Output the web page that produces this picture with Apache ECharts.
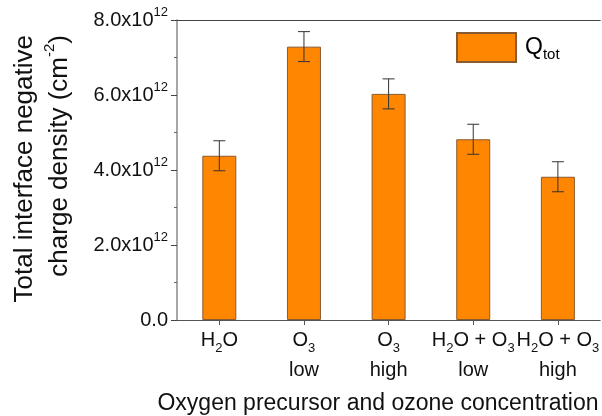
<!DOCTYPE html>
<html><head><meta charset="utf-8">
<script src="https://cdn.jsdelivr.net/npm/echarts@6/dist/echarts.min.js"></script>
<style>html,body{margin:0;padding:0;background:#fff}#c{width:602px;height:416px}</style>
</head><body><div id="c"></div>
<script>
// ---- data ----
const categories = ['H2O', 'O3 low', 'O3 high', 'H2O + O3 low', 'H2O + O3 high'];
const categoryLabels = [
  '{a|H}{b|2}{a|O}',
  '{a|O}{b|3}\n{a|low}',
  '{a|O}{b|3}\n{a|high}',
  '{a|H}{b|2}{a|O + O}{b|3}\n{a|low}',
  '{a|H}{b|2}{a|O + O}{b|3}\n{a|high}'
];
const qtot = [4.38e12, 7.29e12, 6.03e12, 4.82e12, 3.82e12];
const qtotErr = [0.40e12, 0.40e12, 0.40e12, 0.40e12, 0.40e12];
const yMin = 0, yMax = 8e12, yStep = 2e12;
const yTitle = '{a|Total interface negative}\n{a|charge density (cm}{s|-2}{a|)}';
const xTitle = 'Oxygen precursor and ozone concentration';
const seriesName = 'Qtot';

const FONT = 'Arial, "Liberation Sans", Helvetica, sans-serif';
const chart = echarts.init(document.getElementById('c'), null, {renderer: 'canvas'});

const errData = qtot.map((v, i) => [i, v - qtotErr[i], v + qtotErr[i]]);

chart.setOption({
  animation: false,
  backgroundColor: '#fff',
  grid: {left: 177, top: 20, width: 426, height: 300, containLabel: false},
  legend: {
    data: [seriesName],
    left: 456, top: 32, padding: 0,
    itemWidth: 59, itemHeight: 29,
    icon: 'rect',
    formatter: () => '{q|Q}{t|tot}',
    textStyle: {
      padding: [0, 0, 0, 4],
      rich: {
        q: {fontFamily: FONT, fontSize: 23, color: '#000', lineHeight: 30},
        t: {fontFamily: FONT, fontSize: 15, color: '#000', lineHeight: 14, verticalAlign: 'bottom'}
      }
    }
  },
  xAxis: [{
    type: 'category',
    data: categories,
    position: 'bottom',
    axisLine: {lineStyle: {color: '#555', width: 1}},
    axisTick: {show: true, alignWithLabel: true, length: 5, lineStyle: {color: '#555'}},
    axisLabel: {
      interval: 0, margin: 5,
      formatter: (v, i) => categoryLabels[i],
      rich: {
        a: {fontFamily: FONT, fontSize: 20, color: '#111', lineHeight: 30},
        b: {fontFamily: FONT, fontSize: 13, color: '#111', lineHeight: 13, verticalAlign: 'bottom'}
      }
    }
  }, {
    type: 'category',
    data: categories,
    position: 'top',
    axisLine: {lineStyle: {color: '#444', width: 1}},
    axisTick: {show: false},
    axisLabel: {show: false}
  }],
  yAxis: {
    type: 'value',
    min: yMin, max: yMax, interval: yStep,
    axisLine: {show: true, lineStyle: {color: '#888', width: 1.5}},
    axisTick: {show: true, length: 6, lineStyle: {color: '#444'}},
    minorTick: {show: true, splitNumber: 2, length: 3, lineStyle: {color: '#666'}},
    splitLine: {show: false},
    axisLabel: {
      margin: 9,
      formatter: v => v === 0 ? '{a|0.0}' : '{a|' + (v / 1e12).toFixed(1) + 'x10}{s|12}',
      rich: {
        a: {fontFamily: FONT, fontSize: 20, color: '#111', lineHeight: 28},
        s: {fontFamily: FONT, fontSize: 13, color: '#111', lineHeight: 13, verticalAlign: 'top'}
      }
    }
  },
  graphic: [{
    type: 'text',
    x: 42, y: 35,
    rotation: Math.PI / 2,
    style: {
      text: yTitle,
      align: 'right', verticalAlign: 'middle',
      rich: {
        a: {fontFamily: FONT, fontSize: 26, fill: '#111', lineHeight: 35},
        s: {fontFamily: FONT, fontSize: 15, fill: '#111', lineHeight: 15, verticalAlign: 'top'}
      }
    }
  }, {
    type: 'text',
    x: 378, y: 404,
    style: {
      text: xTitle,
      align: 'center', verticalAlign: 'middle',
      font: '23px ' + FONT, fill: '#111'
    }
  }],
  series: [{
    name: seriesName,
    type: 'bar',
    data: qtot,
    barWidth: 34,
    itemStyle: {color: '#ff8600', borderColor: '#8a5a30', borderWidth: 1}
  }, {
    type: 'custom',
    data: errData,
    encode: {x: 0, y: [1, 2]},
    z: 5,
    silent: true,
    renderItem: (params, api) => {
      const x = api.value(0);
      const top = api.coord([x, api.value(2)]);
      const bot = api.coord([x, api.value(1)]);
      const hw = 6;
      const st = {stroke: '#333', lineWidth: 1};
      return {type: 'group', children: [
        {type: 'line', shape: {x1: top[0], y1: top[1], x2: bot[0], y2: bot[1]}, style: st},
        {type: 'line', shape: {x1: top[0] - hw, y1: top[1], x2: top[0] + hw, y2: top[1]}, style: st},
        {type: 'line', shape: {x1: bot[0] - hw, y1: bot[1], x2: bot[0] + hw, y2: bot[1]}, style: st}
      ]};
    }
  }]
});
</script>
</body></html>
